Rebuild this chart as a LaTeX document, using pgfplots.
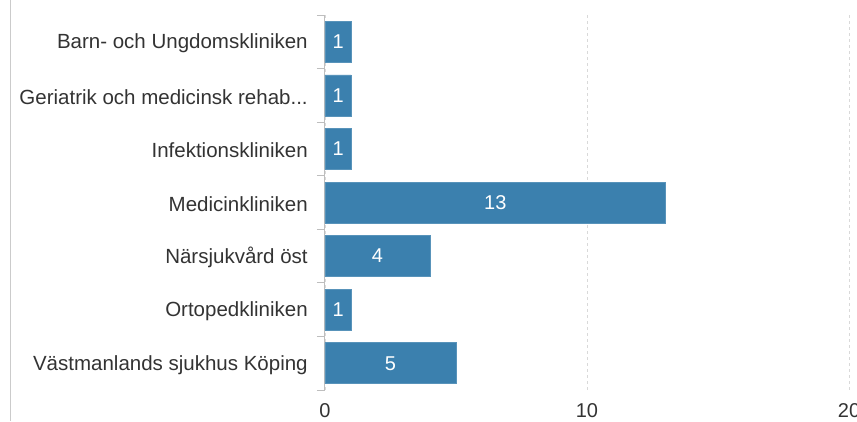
\documentclass[border=0pt]{standalone}
\usepackage{pgfplots}
\pgfplotsset{compat=1.18}
\usepackage{fontspec}
\setmainfont{Liberation Sans}
\definecolor{barblue}{RGB}{59,128,174}
\definecolor{txt}{RGB}{51,51,51}
\definecolor{axgray}{RGB}{190,190,190}
\begin{document}
\fontsize{20.5}{24}\selectfont
\begin{tikzpicture}[x=1pt,y=1pt]
\path[use as bounding box] (0,0) rectangle (857,-421);
\draw[color=axgray!80, line width=0.9pt] (10,0) -- (10,-421);
\begin{axis}[
  at={(325pt,-390pt)}, anchor=south west,
  scale only axis, width=524pt, height=375pt,
  xmin=0, xmax=20, ymin=-0.5, ymax=6.5, y dir=reverse,
  axis y line*=left, axis x line*=bottom,
  x axis line style={draw=none},
  y axis line style={draw=axgray, line width=1pt},
  xtick={0,10,20},
  major x tick style={draw=none},
  xmajorgrids,
  grid style={dash pattern=on 3pt off 3pt, color=black!15, line width=0.8pt},
  ytick={0,1,2,3,4,5,6},
  yticklabels={Barn- och Ungdomskliniken, {Geriatrik och medicinsk rehab.{}.{}.}, Infektionskliniken, Medicinkliniken, Närsjukvård öst, Ortopedkliniken, Västmanlands sjukhus Köping},
  major y tick style={draw=none},
  minor ytick={-0.5,0.5,1.5,2.5,3.5,4.5,5.5,6.5},
  minor y tick style={draw=axgray, line width=1pt},
  minor tick length=8pt,
  tick align=outside,
  yticklabel style={font=\fontsize{20.5}{24}\selectfont, color=txt, xshift=-6pt, yshift=-1.5pt},
  xticklabel style={font=\fontsize{20}{24}\selectfont, color=txt, yshift=-2pt},
  /pgf/number format/assume math mode=true,
  clip=false,
]
\addplot[xbar, bar width=41pt, fill=barblue, draw=barblue!85!white, line width=0.6pt] coordinates {
 (1,0) (1,1) (1,2) (13,3) (4,4) (1,5) (5,6)
};
\addplot[only marks, mark=none, nodes near coords, point meta=explicit symbolic,
  nodes near coords style={anchor=center, color=white, font=\fontsize{20}{24}\selectfont}]
  coordinates {
 (0.5,0) [1] (0.5,1) [1] (0.5,2) [1] (6.5,3) [13] (2,4) [4] (0.5,5) [1] (2.5,6) [5]
};
\end{axis}
\end{tikzpicture}
\end{document}
